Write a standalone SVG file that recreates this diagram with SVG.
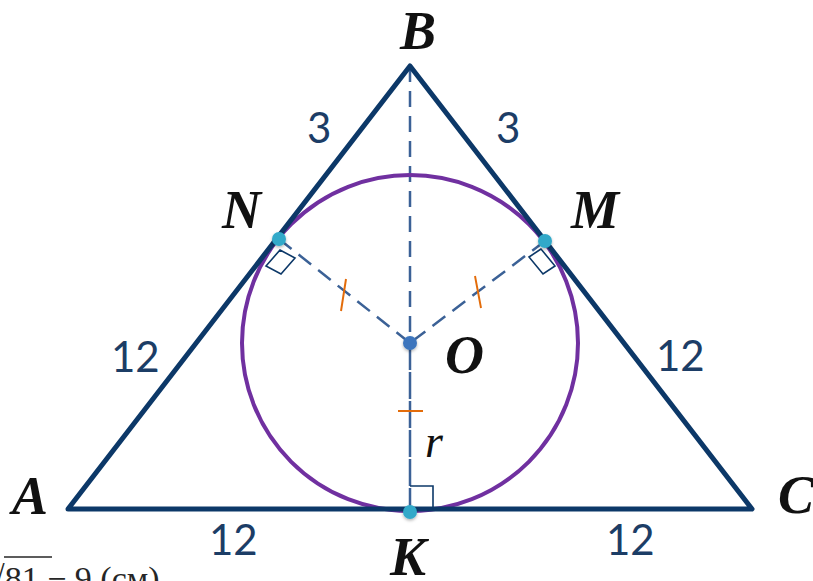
<svg xmlns="http://www.w3.org/2000/svg" width="813" height="581" viewBox="0 0 813 581">
<style>
.side{fill:none;stroke:#0c3868;stroke-width:5;stroke-linejoin:round;stroke-linecap:round}
.dash{fill:none;stroke:#3b6196;stroke-width:2.5;stroke-dasharray:16 9}
.dashK{fill:none;stroke:#3b6196;stroke-width:2.5;stroke-dasharray:27 2}
.ra{fill:none;stroke:#0c3868;stroke-width:1.6}
.tick{stroke:#e36c0a;stroke-width:2}
.pt{font-family:"Liberation Serif",serif;font-weight:bold;font-style:italic;font-size:54px;fill:#111}
.num{font-family:Lato,"Liberation Sans",sans-serif;font-size:42px;fill:#1c3d66}
.dot{fill:#31a9c9}
</style>
<defs>
<filter id="sh" x="-50%" y="-50%" width="200%" height="200%">
<feDropShadow dx="0" dy="1.5" stdDeviation="1.5" flood-color="#000" flood-opacity="0.3"/>
</filter>
</defs>
<rect width="813" height="581" fill="#fff"/>
<g id="connectors">
<line class="dash" x1="410" y1="66" x2="410" y2="343"/>
<line class="dash" x1="279" y1="239" x2="410" y2="343"/>
<line class="dash" x1="545" y1="241" x2="410" y2="343"/>
<line class="dashK" x1="410" y1="343" x2="410" y2="512"/>
</g>
<g id="incircle"><circle cx="410" cy="343" r="168" fill="none" stroke="#7030a0" stroke-width="4"/></g>
<g id="triangle"><polygon class="side" points="68,509 410,66 752,509"/></g>
<g id="marks">
<polygon class="ra" points="280,250 295,258 281,274 266,266"/>
<polygon class="ra" points="541,249 529,257 543,274 555,266"/>
<polyline class="ra" points="410,486 433,486 433,509"/>
<line class="tick" x1="346" y1="279" x2="341" y2="311"/>
<line class="tick" x1="475" y1="276" x2="481" y2="308"/>
<line class="tick" x1="398" y1="411" x2="423" y2="411"/>
</g>
<g id="node-N"><circle class="dot" cx="279" cy="239" r="7" filter="url(#sh)"/><text class="pt" x="222" y="228">N</text></g>
<g id="node-M"><circle class="dot" cx="545" cy="241" r="7" filter="url(#sh)"/><text class="pt" x="571" y="228">M</text></g>
<g id="node-K"><circle class="dot" cx="410" cy="512" r="7" filter="url(#sh)"/><text class="pt" x="390" y="575">K</text></g>
<g id="node-O"><circle cx="410" cy="343" r="7" fill="#3c75bd" filter="url(#sh)"/><text class="pt" x="445" y="373">O</text></g>
<g id="node-B"><text class="pt" x="400" y="49">B</text></g>
<g id="node-A"><text class="pt" x="12" y="514">A</text></g>
<g id="node-C"><text class="pt" x="778" y="513">C</text></g>
<g id="labels">
<text class="num" x="307" y="143">3</text>
<text class="num" x="496" y="143">3</text>
<text class="num" x="111" y="372">12</text>
<text class="num" x="656" y="371">12</text>
<text class="num" x="209" y="555">12</text>
<text class="num" x="606" y="555">12</text>
<text x="425" y="457" font-family="'Liberation Serif',serif" font-style="italic" font-size="46" fill="#111">r</text>
<text x="-14" y="590" font-family="'Liberation Serif',serif" font-size="34" fill="#262626">√81 − 9 (см)</text>
<line x1="4" y1="557" x2="52" y2="557" stroke="#262626" stroke-width="1.6"/>
</g>
</svg>
